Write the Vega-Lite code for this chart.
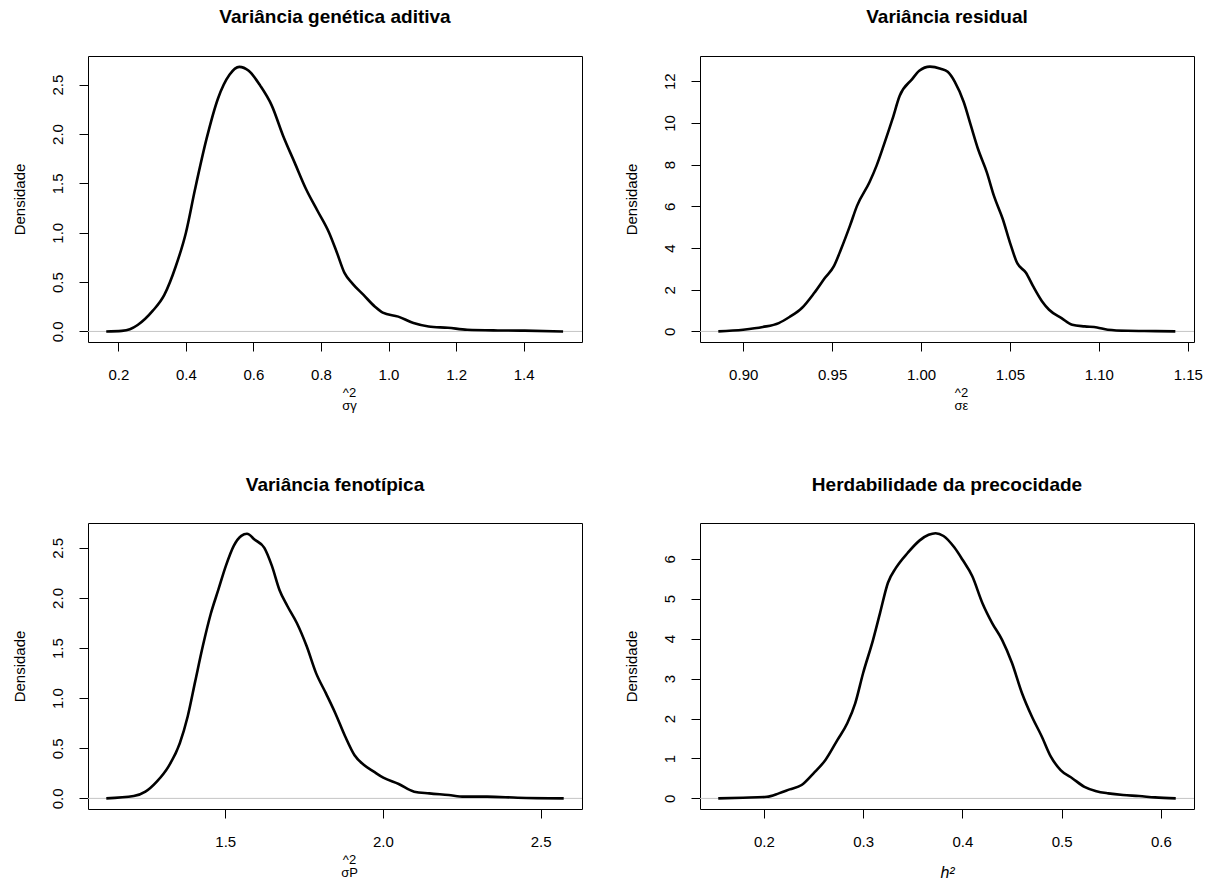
{
  "$schema": "https://vega.github.io/schema/vega-lite/v6.json",
  "autosize": {"type": "none"},
  "padding": {"left": 88, "top": 56, "right": 1135, "bottom": 832},
  "background": "white",
  "datasets": {
    "p1": [
      {"x": 0.164, "y": 0}, {"x": 0.210, "y": 0.006}, {"x": 0.234, "y": 0.022}, {"x": 0.257, "y": 0.065}, {"x": 0.302, "y": 0.21},
      {"x": 0.336, "y": 0.37}, {"x": 0.370, "y": 0.66}, {"x": 0.400, "y": 1.0}, {"x": 0.427, "y": 1.44},
      {"x": 0.461, "y": 1.95}, {"x": 0.495, "y": 2.36}, {"x": 0.529, "y": 2.6}, {"x": 0.558, "y": 2.68},
      {"x": 0.586, "y": 2.64}, {"x": 0.620, "y": 2.49}, {"x": 0.654, "y": 2.29}, {"x": 0.688, "y": 1.98},
      {"x": 0.722, "y": 1.71}, {"x": 0.756, "y": 1.44}, {"x": 0.790, "y": 1.22}, {"x": 0.824, "y": 1.0},
      {"x": 0.847, "y": 0.8}, {"x": 0.870, "y": 0.59}, {"x": 0.892, "y": 0.49}, {"x": 0.926, "y": 0.37},
      {"x": 0.960, "y": 0.25}, {"x": 0.983, "y": 0.19}, {"x": 1.029, "y": 0.15}, {"x": 1.074, "y": 0.085},
      {"x": 1.119, "y": 0.05}, {"x": 1.176, "y": 0.037}, {"x": 1.233, "y": 0.017}, {"x": 1.324, "y": 0.01},
      {"x": 1.403, "y": 0.008}, {"x": 1.517, "y": 0}
    ],
    "p2": [
      {"x": 0.886, "y": 0}, {"x": 0.900, "y": 0.08}, {"x": 0.911, "y": 0.21}, {"x": 0.920, "y": 0.4},
      {"x": 0.926, "y": 0.69}, {"x": 0.933, "y": 1.12}, {"x": 0.940, "y": 1.85}, {"x": 0.946, "y": 2.57},
      {"x": 0.951, "y": 3.13}, {"x": 0.955, "y": 3.94}, {"x": 0.960, "y": 5.06}, {"x": 0.964, "y": 6.02},
      {"x": 0.971, "y": 7.15}, {"x": 0.975, "y": 7.95}, {"x": 0.979, "y": 8.92}, {"x": 0.984, "y": 10.2},
      {"x": 0.988, "y": 11.3}, {"x": 0.995, "y": 12.1}, {"x": 0.999, "y": 12.5}, {"x": 1.005, "y": 12.7},
      {"x": 1.011, "y": 12.6}, {"x": 1.015, "y": 12.45}, {"x": 1.019, "y": 11.97}, {"x": 1.024, "y": 11.0},
      {"x": 1.028, "y": 9.88}, {"x": 1.032, "y": 8.76}, {"x": 1.037, "y": 7.63}, {"x": 1.041, "y": 6.5},
      {"x": 1.046, "y": 5.38}, {"x": 1.050, "y": 4.26}, {"x": 1.054, "y": 3.29}, {"x": 1.059, "y": 2.81},
      {"x": 1.063, "y": 2.17}, {"x": 1.068, "y": 1.45}, {"x": 1.072, "y": 1.04}, {"x": 1.079, "y": 0.64},
      {"x": 1.085, "y": 0.32}, {"x": 1.092, "y": 0.24}, {"x": 1.099, "y": 0.19}, {"x": 1.105, "y": 0.08},
      {"x": 1.116, "y": 0.03}, {"x": 1.132, "y": 0.015}, {"x": 1.143, "y": 0}
    ],
    "p3": [
      {"x": 1.123, "y": 0}, {"x": 1.210, "y": 0.023}, {"x": 1.247, "y": 0.067}, {"x": 1.283, "y": 0.167},
      {"x": 1.320, "y": 0.317}, {"x": 1.356, "y": 0.55}, {"x": 1.381, "y": 0.817}, {"x": 1.405, "y": 1.17},
      {"x": 1.429, "y": 1.52}, {"x": 1.454, "y": 1.84}, {"x": 1.478, "y": 2.08}, {"x": 1.502, "y": 2.32},
      {"x": 1.527, "y": 2.52}, {"x": 1.551, "y": 2.62}, {"x": 1.569, "y": 2.64}, {"x": 1.594, "y": 2.58},
      {"x": 1.624, "y": 2.5}, {"x": 1.648, "y": 2.32}, {"x": 1.672, "y": 2.08}, {"x": 1.697, "y": 1.92},
      {"x": 1.727, "y": 1.75}, {"x": 1.758, "y": 1.52}, {"x": 1.788, "y": 1.25}, {"x": 1.819, "y": 1.05},
      {"x": 1.849, "y": 0.85}, {"x": 1.880, "y": 0.62}, {"x": 1.910, "y": 0.43}, {"x": 1.940, "y": 0.333},
      {"x": 1.971, "y": 0.267}, {"x": 2.001, "y": 0.207}, {"x": 2.050, "y": 0.143}, {"x": 2.099, "y": 0.067},
      {"x": 2.147, "y": 0.05}, {"x": 2.208, "y": 0.033}, {"x": 2.257, "y": 0.017}, {"x": 2.330, "y": 0.017},
      {"x": 2.427, "y": 0.007}, {"x": 2.573, "y": 0}
    ],
    "p4": [
      {"x": 0.154, "y": 0}, {"x": 0.179, "y": 0.017}, {"x": 0.203, "y": 0.04}, {"x": 0.215, "y": 0.126},
      {"x": 0.226, "y": 0.226}, {"x": 0.238, "y": 0.335}, {"x": 0.250, "y": 0.628}, {"x": 0.262, "y": 0.962},
      {"x": 0.274, "y": 1.46}, {"x": 0.284, "y": 1.88}, {"x": 0.292, "y": 2.38}, {"x": 0.300, "y": 3.14},
      {"x": 0.310, "y": 3.97}, {"x": 0.317, "y": 4.64}, {"x": 0.325, "y": 5.4}, {"x": 0.333, "y": 5.77},
      {"x": 0.345, "y": 6.15}, {"x": 0.357, "y": 6.46}, {"x": 0.366, "y": 6.6}, {"x": 0.373, "y": 6.64},
      {"x": 0.381, "y": 6.57}, {"x": 0.392, "y": 6.28}, {"x": 0.400, "y": 5.98}, {"x": 0.410, "y": 5.56},
      {"x": 0.420, "y": 4.9}, {"x": 0.430, "y": 4.39}, {"x": 0.440, "y": 3.97}, {"x": 0.450, "y": 3.39},
      {"x": 0.460, "y": 2.64}, {"x": 0.470, "y": 2.05}, {"x": 0.480, "y": 1.55}, {"x": 0.489, "y": 1.05},
      {"x": 0.499, "y": 0.71}, {"x": 0.511, "y": 0.5}, {"x": 0.523, "y": 0.29}, {"x": 0.535, "y": 0.18},
      {"x": 0.547, "y": 0.126}, {"x": 0.562, "y": 0.084}, {"x": 0.578, "y": 0.059}, {"x": 0.594, "y": 0.025},
      {"x": 0.615, "y": 0}
    ],
    "zero": [{"y": 0}]
  },
  "columns": 2,
  "spacing": {"row": 181, "column": 118},
  "bounds": "flush",
  "concat": [
    {
      "width": 494, "height": 286,
      "title": {"text": "Variância genética aditiva", "offset": 29},
      "encoding": {
        "y": {"field": "y", "type": "quantitative",
          "scale": {"domain": [-0.107, 2.79], "nice": false, "zero": false},
          "axis": {"values": [0, 0.5, 1, 1.5, 2, 2.5], "format": ".1f", "title": "Densidade"}}
      },
      "layer": [
        {"data": {"name": "zero"}, "mark": {"type": "rule", "color": "#C4C4C4", "strokeWidth": 1}},
        {"data": {"name": "p1"},
         "mark": {"type": "line", "color": "black", "strokeWidth": 2.6, "interpolate": "monotone"},
         "encoding": {"x": {"field": "x", "type": "quantitative",
           "scale": {"domain": [0.110, 1.573], "nice": false, "zero": false},
           "axis": {"values": [0.2, 0.4, 0.6, 0.8, 1.0, 1.2, 1.4], "format": ".1f", "title": ["^2", "σγ"], "titleX": 261}}}}
      ]
    },
    {
      "width": 494, "height": 286,
      "title": {"text": "Variância residual", "offset": 29},
      "encoding": {
        "y": {"field": "y", "type": "quantitative",
          "scale": {"domain": [-0.508, 13.208], "nice": false, "zero": false},
          "axis": {"values": [0, 2, 4, 6, 8, 10, 12], "format": "d", "title": "Densidade"}}
      },
      "layer": [
        {"data": {"name": "zero"}, "mark": {"type": "rule", "color": "#C4C4C4", "strokeWidth": 1}},
        {"data": {"name": "p2"},
         "mark": {"type": "line", "color": "black", "strokeWidth": 2.6, "interpolate": "monotone"},
         "encoding": {"x": {"field": "x", "type": "quantitative",
           "scale": {"domain": [0.8757, 1.1535], "nice": false, "zero": false},
           "axis": {"values": [0.90, 0.95, 1.00, 1.05, 1.10, 1.15], "format": ".2f", "title": ["^2", "σε"], "titleX": 261}}}}
      ]
    },
    {
      "width": 494, "height": 286,
      "title": {"text": "Variância fenotípica", "offset": 28},
      "encoding": {
        "y": {"field": "y", "type": "quantitative",
          "scale": {"domain": [-0.106, 2.748], "nice": false, "zero": false},
          "axis": {"values": [0, 0.5, 1, 1.5, 2, 2.5], "format": ".1f", "title": "Densidade"}}
      },
      "layer": [
        {"data": {"name": "zero"}, "mark": {"type": "rule", "color": "#C4C4C4", "strokeWidth": 1}},
        {"data": {"name": "p3"},
         "mark": {"type": "line", "color": "black", "strokeWidth": 2.6, "interpolate": "monotone"},
         "encoding": {"x": {"field": "x", "type": "quantitative",
           "scale": {"domain": [1.065, 2.631], "nice": false, "zero": false},
           "axis": {"values": [1.5, 2.0, 2.5], "format": ".1f", "title": ["^2", "σP"], "titleX": 261}}}}
      ]
    },
    {
      "width": 494, "height": 286,
      "title": {"text": "Herdabilidade da precocidade", "offset": 28},
      "encoding": {
        "y": {"field": "y", "type": "quantitative",
          "scale": {"domain": [-0.265, 6.895], "nice": false, "zero": false},
          "axis": {"values": [0, 1, 2, 3, 4, 5, 6], "format": "d", "title": "Densidade"}}
      },
      "layer": [
        {"data": {"name": "zero"}, "mark": {"type": "rule", "color": "#C4C4C4", "strokeWidth": 1}},
        {"data": {"name": "p4"},
         "mark": {"type": "line", "color": "black", "strokeWidth": 2.6, "interpolate": "monotone"},
         "encoding": {"x": {"field": "x", "type": "quantitative",
           "scale": {"domain": [0.1356, 0.6334], "nice": false, "zero": false},
           "axis": {"values": [0.2, 0.3, 0.4, 0.5, 0.6], "format": ".1f", "title": "h²", "titleX": 247, "titleY": 68, "titleFontSize": 16, "titleFontStyle": "italic"}}}}
      ]
    }
  ],
  "config": {
    "font": "Liberation Sans",
    "view": {"stroke": "black", "strokeWidth": 1},
    "title": {"font": "Liberation Sans", "fontSize": 19, "fontWeight": "bold", "color": "black", "anchor": "middle", "frame": "group", "baseline": "alphabetic"},
    "axis": {
      "labelFont": "Liberation Sans", "labelFontSize": 15, "labelColor": "black",
      "tickColor": "black", "tickSize": 9, "tickWidth": 1, "domain": false, "grid": false,
      "titleFont": "Liberation Sans", "titleFontWeight": "normal", "titleColor": "black",
      "labelFlush": false, "labelOverlap": false
    },
    "axisX": {"labelPadding": 16, "titleFontSize": 13, "titleLineHeight": 13, "titleY": 54, "titleAlign": "center", "titleBaseline": "alphabetic"},
    "axisY": {"labelAngle": -90, "labelAlign": "center", "labelBaseline": "alphabetic", "labelPadding": 17,
      "titleFontSize": 15, "titleAngle": -90, "titleX": -64, "titleY": 143, "titleAlign": "center", "titleBaseline": "alphabetic"}
  }
}
